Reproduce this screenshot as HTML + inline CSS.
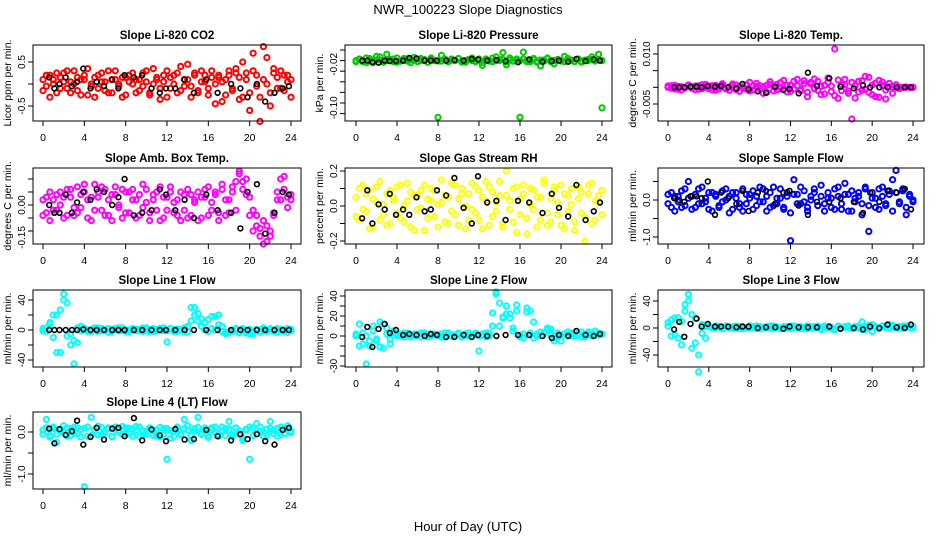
<!DOCTYPE html>
<html><head><meta charset="utf-8"><style>
html,body{margin:0;padding:0;background:#fff;}
svg{display:block;font-family:"Liberation Sans",Arial,sans-serif;}
</style></head><body>
<svg id="chart" width="936" height="540" viewBox="0 0 936 540" xmlns="http://www.w3.org/2000/svg">
<text x="468" y="14" text-anchor="middle" font-size="13">NWR_100223  Slope Diagnostics</text>
<text x="468" y="531" text-anchor="middle" font-size="13">Hour of Day (UTC)</text>
</svg>
<script>
const hoursC = [0,0.33,0.67,1,1.33,1.67,2,2.33,2.67,3,3.33,3.67,4,4.33,4.67,5,5.33,5.67,6,6.33,6.67,7,7.33,7.67,8,8.33,8.67,9,9.33,9.67,10,10.33,10.67,11,11.33,11.67,12,12.33,12.67,13,13.33,13.67,14,14.33,14.67,15,15.33,15.67,16,16.33,16.67,17,17.33,17.67,18,18.33,18.67,19,19.33,19.67,20,20.33,20.67,21,21.33,21.67,22,22.33,22.67,23,23.33,23.67,24];
const hoursB = [0.6,1.1,1.6,2.2,2.8,3.3,3.9,4.6,5.2,5.9,6.7,7.3,7.9,8.8,9.6,10.5,11.3,11.9,12.8,13.7,14.6,15.8,16.9,18.2,19.1,19.8,20.7,21.5,22.4,23.2,23.8];
const xTicks = [0,4,8,12,16,20,24];

const co2A = [.1,-.05,.2,0,-.2,.15,.25,-.1,.05,.3,-.15,.1,.2,-.25,0,.15,-.1,.25,.05,-.2,.1,.3,-.05,.15,-.25,.2,0,.1,-.15,.25,.05,-.2,.35,.1,-.1,.2,-.3,.15,0,.25,-.15,.1,.45,-.05,.2,-.2,.3,.05,-.25,.15,0,.2,-.4,.1,.3,-.15,.25,-.35,.5,.1,-.2,.7,.2,-.3,.85,0,-.5,.35,.15,-.1,.2,.05,-.3];
const co2B = [-.15,.2,-.3,.1,.25,-.1,.05,.3,-.2,0,.15,-.25,.1,.35,-.05,-.3,.2,.05,-.15,.3,-.2,.1,0,-.3,.15,.05,.25,-.2,.1,-.05,.3,-.25,0,.15,-.35,.05,.3,-.1,.2,-.2,.4,-.05,.1,-.3,.25,-.15,.05,.2,-.1,.3,-.45,.15,.05,-.25,.2,-.1,.35,.15,-.3,.25,-.6,.3,-.05,-.85,.1,.6,-.2,.25,-.1,.3,-.15,.2,.1];
const co2K = [.15,-.1,0,.15,-.05,.05,.35,-.1,.05,-.05,.1,-.1,.2,.15,.2,-.1,-.2,-.1,-.1,.1,-.2,.1,-.2,0,-.1,-.3,0,-.4,-.2,-.1,-.05];

const presA = [-.02,-.018,-.022,-.015,-.02,-.024,-.012,-.019,-.021,-.008,-.02,-.017,-.023,-.02,-.016,-.021,-.019,-.014,-.022,-.02,-.018,-.023,-.015,-.02,-.021,-.01,-.019,-.022,-.017,-.02,-.016,-.023,-.02,-.018,-.015,-.021,-.019,-.024,-.017,-.02,-.022,-.013,-.02,-.018,-.028,-.015,-.021,-.019,-.02,-.017,-.022,-.02,-.016,-.023,-.019,-.021,-.015,-.02,-.026,-.018,-.02,-.022,-.016,-.019,-.021,-.017,-.023,-.02,-.018,-.013,-.021,-.019,-.02];
const presB = [-.022,-.017,-.02,-.024,-.016,-.021,-.019,-.013,-.023,-.02,-.018,-.022,-.015,-.021,-.02,-.017,-.024,-.019,-.021,-.016,-.02,-.023,-.018,-.02,-.127,-.021,-.017,-.022,-.019,-.02,-.016,-.021,-.023,-.018,-.02,-.022,-.017,-.029,-.019,-.021,-.015,-.02,-.018,-.005,-.022,-.019,-.021,-.017,-.127,-.004,-.02,-.022,-.018,-.021,-.03,-.019,-.016,-.022,-.02,-.018,-.021,-.012,-.02,-.019,-.022,-.017,-.021,-.019,-.02,-.018,-.02,-.008,-.109];
const presK = [-.02,-.02,-.023,-.024,-.02,-.021,-.021,-.02,-.015,-.016,-.02,-.02,-.02,-.02,-.019,-.02,-.017,-.018,-.02,-.019,-.021,-.023,-.018,-.022,-.021,-.02,-.022,-.017,-.021,-.018,-.02];

const tempA = [0,.0005,-.0005,.0003,-.0008,0,.0006,-.0003,.0004,-.0006,.0008,0,-.0004,.0005,-.0009,.0002,.0006,-.0005,.0001,.001,-.0007,.0003,-.0002,.0008,-.0011,.0004,.0012,-.0006,.0002,-.0015,.0009,.0003,-.0008,.0014,-.0004,.0006,-.0012,.0018,.0005,-.0007,.002,-.0015,.001,.0025,-.0009,.0003,-.002,.0015,.0004,-.0025,.0022,-.001,.0008,-.0018,-.0095,.0005,-.0014,.002,-.0006,.003,-.0022,.0012,-.003,.0016,-.0008,.0002,0,.0001,0,0,.0001,0,0];
const tempB = [.0004,-.0003,.0006,-.0006,.0002,-.0002,.0007,.0001,-.0007,.0005,-.0004,.0009,.0003,-.0008,.0006,-.0005,.0011,-.0002,-.0009,.0004,.0007,-.0012,.0002,-.0005,.0015,-.0008,.0003,.0005,-.0018,.0006,.0017,-.0011,.0009,-.0003,.0021,-.0014,.0006,-.0005,.0024,-.001,.0011,-.0028,.0015,-.0004,.0018,-.0022,.0006,.0028,-.0013,.0115,-.0033,.0008,.0024,-.0011,.0015,-.0032,.0018,-.0009,.0033,-.0015,.0007,-.0028,.0021,.0006,-.0035,.0012,-.0018,.0008,-.0004,0,0,0,0];
const tempK = [0,0,0,.0002,.0002,0,.0004,.0002,.0004,0,-.0003,.001,-.0006,-.0012,-.0016,.0002,-.0008,-.0005,-.0018,.0044,.0004,.0027,.0002,-.0003,.0006,0,0,0,0,0,0];

const ambA = [.02,-.03,.05,-.02,.04,0,-.05,.06,.03,-.04,.07,-.01,.05,.02,-.06,.08,.03,-.02,.06,-.04,.04,.07,0,-.05,.05,-.03,.06,.02,-.04,.08,.01,-.06,.04,-.02,.07,-.05,.03,.05,-.03,.02,-.06,.04,.06,-.04,.01,.05,-.05,.03,.07,-.02,.04,-.06,.08,.02,-.03,.05,.09,.12,.06,.1,.03,-.02,-.08,-.12,-.06,-.14,-.1,-.04,.02,.1,.06,.03,.02];
const ambB = [-.04,.03,-.06,.02,-.02,.05,.03,-.04,.06,-.01,-.03,.04,.08,-.05,.03,-.02,.05,.07,-.04,.02,-.06,.04,-.01,.06,-.03,.05,.02,-.05,.04,-.01,.06,-.03,.02,.05,-.06,.03,-.02,.07,.01,-.04,.05,-.02,-.05,.04,.02,-.06,.03,.06,-.04,.01,.05,-.03,.06,-.04,.02,.07,-.02,.13,.09,.04,-.04,-.1,-.04,-.09,-.15,-.08,-.12,-.03,.05,.02,.11,-.01,.04];
const ambK = [0,-.03,-.03,.04,-.03,.01,.05,.02,.06,.05,0,.03,.1,-.04,-.03,-.02,.06,.04,-.02,.02,-.05,.04,-.02,-.03,-.09,.05,.08,-.11,-.03,.05,.04];

const rhA = [.05,-.08,.12,-.03,.09,-.12,.02,.14,-.05,.07,-.1,.03,.11,-.07,0,.13,-.12,.06,-.02,.09,-.14,.04,.1,-.06,.01,.15,-.09,.05,-.03,.12,-.11,.07,0,-.08,.13,-.04,.09,-.13,.03,.11,-.06,.02,.14,-.1,.06,-.02,.1,-.15,.04,.12,-.07,.01,.09,-.12,.05,.13,-.04,-.09,.11,.02,-.11,.07,-.03,.1,-.14,.04,.08,-.06,.12,-.1,.03,.06,-.05];
const rhB = [-.06,.1,-.02,.07,-.13,.04,.11,-.08,.01,-.11,.09,.05,-.04,.12,-.09,.03,.08,-.14,.06,-.01,.12,-.07,.03,.09,-.12,.02,.06,-.1,.13,-.05,.04,.1,-.13,.07,-.02,.11,-.08,.05,.14,-.11,.08,-.03,.06,-.12,.2,.03,-.09,.11,-.05,.07,-.16,.1,-.02,.05,-.08,.15,-.11,.04,.09,-.05,.12,-.13,.06,.01,-.09,.11,-.04,-.2,.07,.13,-.08,.02,.09];
const rhK = [-.07,.09,-.1,.01,-.02,.07,-.05,-.02,-.05,.05,-.03,-.02,.09,.06,.16,-.01,-.1,.17,.02,.03,-.08,.03,.02,-.04,.07,-.01,-.06,.12,-.08,-.03,.02];

const sfA = [-.1,.2,-.3,.1,-.2,.3,.05,-.25,.15,-.1,.35,-.05,.2,-.3,.1,-.15,.25,0,-.35,.2,.05,-.2,.3,-.1,.15,-.25,.1,.35,-.05,-.3,.2,-.15,.05,.3,-.2,.1,-.35,.55,.15,-.1,.25,-.2,0,.3,-.15,.1,-.3,.2,.05,-.25,.35,-.1,.15,-.3,.25,-.05,.1,-.4,.3,-.15,.2,.05,-.25,.35,-.1,.15,-.3,.2,-.05,.25,-.2,.1,0];
const sfB = [.15,-.2,.1,-.05,.25,-.15,.5,.1,-.2,.3,-.1,.05,-.25,.2,.15,-.2,-.05,.3,.1,-.25,.2,-.1,-.3,.15,.05,.25,-.15,-.05,.3,.1,-.2,.35,-.1,.05,-.25,.2,-1.1,.15,-.1,.35,-.05,-.3,.1,.2,-.15,.4,-.1,.05,-.2,.3,.1,-.25,.45,.15,-.3,.05,.2,-.1,.35,-.85,.05,-.2,.3,.1,-.15,.25,.55,.8,-.1,.3,-.4,.15,-.05];
const sfK = [.05,0,-.05,.1,.1,.05,.5,-.4,.2,.05,-.1,.25,-.3,.2,.25,-.1,.2,.25,-.15,-.4,-.05,-.05,.05,-.05,-.35,.2,-.05,.25,.2,.3,-.25];

const l1A = [2,-2,8,-10,20,-30,48,36,-5,-45,-17,5,2,-2,1,3,-2,2,0,-3,1,2,-1,3,-2,0,2,-1,1,-2,3,0,-2,1,2,-1,-16,2,0,-2,1,3,-2,12,30,22,15,10,-2,2,18,20,5,-3,-4,-2,1,-3,2,-4,-5,-2,1,-3,0,-2,2,-1,-3,1,-2,2,-1];
const l1B = [-1,3,10,20,-30,27,40,-8,-20,-14,3,-1,2,0,-2,1,3,-1,0,2,-2,1,3,-1,0,-2,2,1,-1,3,0,-2,2,-1,0,3,-1,2,-2,1,0,-3,5,30,20,12,5,0,14,18,0,7,-2,-5,-3,0,2,-4,-1,-3,1,-5,0,-2,3,-1,0,-2,2,-1,0,-3,1];
const l1K = [0,0,0,0,0,0,1,0,0,0,0,0,0,0,0,0,0,0,0,0,0,0,0,0,0,0,0,0,0,0,0];

const l2A = [2,12,-8,0,-10,5,-5,14,-12,8,-3,5,2,0,3,1,-1,2,0,3,1,-1,2,1,0,2,-1,3,1,0,2,-1,1,3,0,2,-15,1,3,0,23,42,10,18,30,22,5,25,1,-2,28,25,14,2,0,3,6,7,-2,0,-5,2,1,3,0,2,4,-1,2,3,1,3,2];
const l2B = [0,-10,3,-28,-5,10,-3,-11,12,2,-8,3,0,2,-1,3,1,0,2,-1,3,1,0,2,1,-1,3,2,0,1,3,-1,2,0,1,3,0,2,-1,3,10,44,33,19,22,18,8,31,-1,2,24,3,-2,0,4,3,8,1,-5,3,0,2,4,0,3,1,-1,2,4,0,5,1,2];
const l2K = [-1,9,-11,7,12,3,6,1,2,1,0,2,1,-1,-1,1,-1,1,0,0,1,1,1,0,-2,1,0,5,1,0,2];

const l3A = [3,12,-10,15,10,35,50,20,-22,-65,-8,2,3,1,0,2,-1,3,0,2,1,-1,2,0,3,1,-1,2,0,1,3,-1,2,0,1,2,-1,3,0,2,1,-1,2,0,3,1,0,2,-1,-2,3,0,2,1,-1,0,3,9,-2,2,5,1,-1,3,2,0,4,1,2,0,3,1,2];
const l3B = [8,-12,15,-15,-25,25,40,-30,14,-40,5,-15,2,0,3,1,-1,2,1,0,3,2,-1,1,0,2,3,-1,1,2,0,3,1,-1,2,0,3,1,2,-1,1,3,0,2,1,-2,3,0,1,-3,2,0,1,3,-1,2,0,-2,1,4,-5,2,0,3,1,5,2,0,-1,3,2,1,0];
const l3K = [-2,9,-13,6,14,2,6,2,2,2,1,2,2,0,1,1,-1,2,1,1,1,2,-1,0,-2,2,0,5,1,0,5];

const l4A = [.05,.1,-.08,.12,-.05,.03,.15,-.1,.08,-.02,.1,-.12,-1.3,.12,-.08,.05,.14,-.06,.02,.1,-.12,.06,0,.13,-.05,.09,-.1,.04,.12,-.07,.02,.1,-.08,.05,-.12,.08,-.65,.03,-.1,.12,-.04,.08,.15,-.09,.02,.11,-.06,.04,-.13,.1,0,-.05,.12,-.08,.06,-.11,.09,.03,-.14,.07,-.65,.1,-.05,.12,0,-.08,.09,.04,-.1,.12,-.04,.06,.02];
const l4B = [-.05,.3,-.12,.08,-.25,.06,-.02,.1,-.08,.12,-.04,.06,.09,-.1,.35,.05,-.07,.11,-.02,.08,-.1,.12,.04,-.06,.1,-.03,.07,.13,-.11,.02,-.05,.09,.03,-.09,.11,-.06,.08,-.15,.02,.1,-.07,.3,.04,-.2,.08,.35,-.03,.1,-.08,.05,.12,-.1,.03,.08,.25,-.06,.1,-.05,-.2,.05,.12,-.08,.2,.02,-.1,.07,.25,-.04,.09,-.06,.08,.15,-.02];
const l4K = [.08,-.27,.07,-.07,.02,.27,-.3,-.12,.1,-.18,.08,.1,-.1,.33,-.2,.06,-.08,-.22,.07,-.18,-.17,.05,-.1,-.2,-.05,-.17,-.05,-.22,-.3,.05,.1];

const cols = [{L:33,R:301,x0:43,x24:291},{L:345,R:612,x0:356,x24:602},{L:658,R:924,x0:668,x24:913}];
const rows = [{T:45,B:121},{T:168,B:244},{T:290,B:367},{T:412,B:489}];
const panels = [
 {name:'co2',c:0,r:0,title:'Slope Li-820 CO2',yl:'Licor ppm per min.',col:'#ff0000',A:co2A,Bv:co2B,K:co2K,va:0.5,pa:62,vb:-0.5,pb:106,ticks:[-0.5,0,0.5],labs:[[-0.5,'-0.5'],[0.5,'0.5']]},
 {name:'pressure',c:1,r:0,title:'Slope Li-820 Pressure',yl:'kPa per min.',col:'#00cc00',A:presA,Bv:presB,K:presK,va:0,pa:50,vb:-0.12,pb:113.6,ticks:[-0.12,-0.1,-0.08,-0.06,-0.04,-0.02,0],labs:[[-0.027,'-0.02'],[-0.109,'-0.10']]},
 {name:'li820-temp',c:2,r:0,title:'Slope Li-820 Temp.',yl:'degrees C per min.',col:'#ff00ff',A:tempA,Bv:tempB,K:tempK,va:0.01,pa:54,vb:-0.005,pb:104,ticks:[-0.005,0,0.005,0.01],labs:[[0.01,'0.010'],[-0.005,'-0.005']]},
 {name:'amb-box-temp',c:0,r:1,title:'Slope Amb. Box Temp.',yl:'degrees C per min.',col:'#ff00ff',A:ambA,Bv:ambB,K:ambK,va:0,pa:205,vb:-0.1,pb:231,ticks:[-0.1,-0.05,0,0.05,0.1],labs:[[0,'0.00'],[-0.125,'-0.15']]},
 {name:'gas-stream-rh',c:1,r:1,title:'Slope Gas Stream RH',yl:'percent per min.',col:'#ffff00',A:rhA,Bv:rhB,K:rhK,va:0,pa:206,vb:0.2,pb:171,ticks:[-0.2,-0.1,0,0.1,0.2],labs:[[0.2,'0.2'],[0,'0.0'],[-0.2,'-0.2']]},
 {name:'sample-flow',c:2,r:1,title:'Slope Sample Flow',yl:'ml/min per min.',col:'#0000ff',A:sfA,Bv:sfB,K:sfK,va:0,pa:200,vb:-1,pb:237,ticks:[-1,-0.5,0,0.5],labs:[[0,'0.0'],[-1,'-1.0']]},
 {name:'line1-flow',c:0,r:2,title:'Slope Line 1 Flow',yl:'ml/min per min.',col:'#00ffff',A:l1A,Bv:l1B,K:l1K,va:0,pa:330,vb:40,pb:300,ticks:[-40,-20,0,20,40],labs:[[40,'40'],[0,'0'],[-40,'-40']]},
 {name:'line2-flow',c:1,r:2,title:'Slope Line 2 Flow',yl:'ml/min per min.',col:'#00ffff',A:l2A,Bv:l2B,K:l2K,va:0,pa:336,vb:40,pb:296,ticks:[-30,-20,-10,0,10,20,30,40],labs:[[40,'40'],[20,'20'],[0,'0'],[-30,'-30']]},
 {name:'line3-flow',c:2,r:2,title:'Slope Line 3 Flow',yl:'ml/min per min.',col:'#00ffff',A:l3A,Bv:l3B,K:l3K,va:0,pa:328,vb:40,pb:301,ticks:[-40,-20,0,20,40],labs:[[40,'40'],[0,'0'],[-40,'-40']]},
 {name:'line4-flow',c:0,r:3,title:'Slope Line 4 (LT) Flow',yl:'ml/min per min.',col:'#00ffff',A:l4A,Bv:l4B,K:l4K,va:0,pa:432,vb:-1,pb:474,ticks:[-1,-0.5,0],labs:[[0,'0.0'],[-1,'-1.0']]}
];
const svg = document.getElementById('chart');
const NS = 'http://www.w3.org/2000/svg';
function mk(tag, attrs, parent){
  const e = document.createElementNS(NS, tag);
  for (const k in attrs) e.setAttribute(k, attrs[k]);
  (parent||svg).appendChild(e);
  return e;
}
panels.forEach(p => {
  const C = cols[p.c], R = rows[p.r];
  const xs = h => C.x0 + (C.x24 - C.x0) * h / 24;
  const ys = v => p.pa + (v - p.va) * (p.pb - p.pa) / (p.vb - p.va);
  const g = mk('g', {});
  
  
  const t = mk('text', {x:(C.L+C.R)/2, y:R.T-6, 'text-anchor':'middle', 'font-size':'11.5', 'font-weight':'bold'}, g);
  t.textContent = p.title;
  
  
  const yt = mk('text', {transform:`translate(${C.L-22},${(R.T+R.B)/2}) rotate(-90)`, 'text-anchor':'middle', 'font-size':'10.5'}, g);
  yt.textContent = p.yl;
  
  
  const series = [[p.A, hoursC, p.col], [p.Bv, hoursC, p.col], [p.K, hoursB, '#000']];
  series.forEach(([vals, hrs, color], si) => {
    const sg = mk('g', {fill:'none', stroke:color, 'stroke-width': si === 2 ? '1.6' : '2'}, g);
    
    
    const n = Math.min(vals.length, hrs.length);
    for (let i = 0; i < n; i++) {
      const c = mk('circle', {cx:xs(hrs[i]).toFixed(1), cy:ys(vals[i]).toFixed(1), r: si === 2 ? '2.4' : '2.6'}, sg);
      
      
    }
  });
  const box = mk('rect', {x:C.L, y:R.T, width:C.R-C.L, height:R.B-R.T, fill:'none', stroke:'#000', 'stroke-width':'1'}, g);
  
  
  const xa = mk('g', {stroke:'#000'}, g);
  
  
  xTicks.forEach(h => {
    mk('line', {x1:xs(h), x2:xs(h), y1:R.B, y2:R.B+5}, xa);
    const tl = mk('text', {x:xs(h), y:R.B+20, 'text-anchor':'middle', 'font-size':'10.5', stroke:'none'}, xa);
    tl.textContent = h;
    
    
  });
  const ya = mk('g', {stroke:'#000'}, g);
  
  
  p.ticks.forEach(v => mk('line', {x1:C.L, x2:C.L-5, y1:ys(v), y2:ys(v)}, ya));
  p.labs.forEach(([v, s]) => {
    const yl = mk('text', {transform:`translate(${C.L-8},${ys(v)}) rotate(-90)`, 'text-anchor':'middle', 'font-size':'10', stroke:'none'}, ya);
    yl.textContent = s;
    
    
  });
});
</script>
</body></html>
